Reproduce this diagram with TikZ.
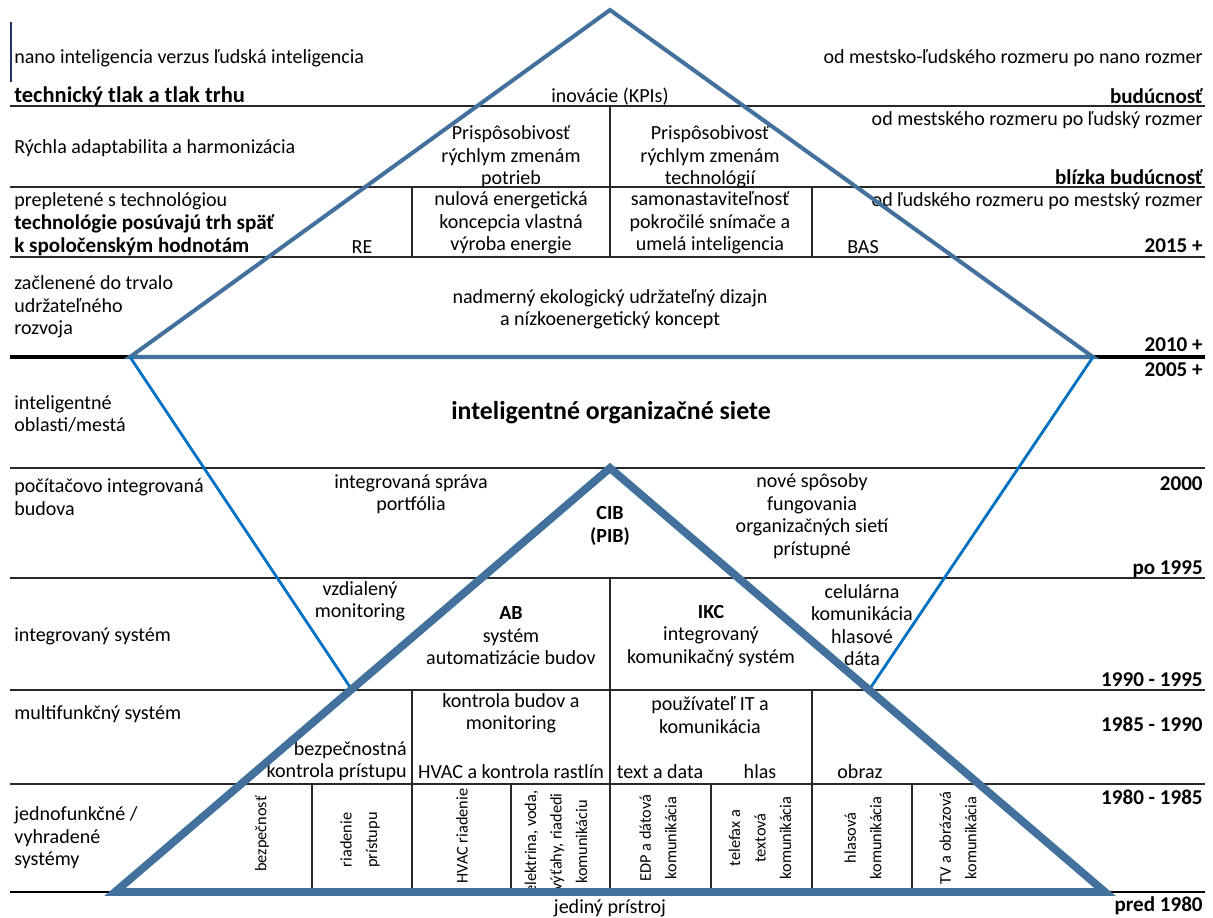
\documentclass[tikz,border=0pt]{standalone}
\usepackage{fontspec}
\setmainfont{Carlito}
\usepackage{tikz}
\usetikzlibrary{positioning, calc}
\definecolor{steel}{RGB}{65, 113, 156}
\definecolor{brightblue}{RGB}{0, 112, 192}
\definecolor{gridgray}{RGB}{40, 40, 40}
\definecolor{cursorblue}{RGB}{30, 50, 110}
\tikzset{
    txt/.style={inner sep=0pt, align=center, font=\fontsize{11.4}{12.8}\selectfont},
    lefttxt/.style={txt, anchor=west, align=left},
    righttxt/.style={txt, anchor=east, align=right},
    yearlbl/.style={righttxt, font=\fontsize{12}{14}\selectfont\bfseries},
    headlbl/.style={lefttxt, font=\fontsize{12}{13.2}\selectfont\bfseries},
    vertlbl/.style={inner sep=0pt, align=center, rotate=90, font=\fontsize{9.3}{14.5}\selectfont},
    gridline/.style={draw=gridgray, line width=0.8pt},
    toptri/.style={draw=steel, line width=2.3pt, line join=miter},
    innerline/.style={draw=brightblue, line width=1.6pt},
    basetri/.style={draw=steel, line width=4.5pt, line join=miter}
}

\begin{document}
\begin{tikzpicture}[x=0.02cm, y=-0.02cm]
    \useasboundingbox (0,0) rectangle (1213,917);
    % grid of the table
    \foreach \yy in {106,187,257,468,578,690,784}
        \draw[gridline] (10,\yy) -- (1205,\yy);
    \draw[draw=black, line width=1.8pt] (10,357) -- (1205,357);
    \draw[draw=black, line width=0.9pt] (10,892) -- (1205,892);
    \draw[gridline] (610,106) -- (610,257);
    \foreach \xx in {412,812}
        \draw[gridline] (\xx,187) -- (\xx,257);
    \draw[gridline] (610,578) -- (610,784);
    \foreach \xx in {412,812}
        \draw[gridline] (\xx,690) -- (\xx,784);
    \foreach \xx in {312,412,511,610,711,812,912}
        \draw[gridline] (\xx,784) -- (\xx,892);
    \draw[draw=cursorblue, line width=0.9pt] (11,22) -- (11,82);

    % row: nano
    \node[lefttxt] (nano) at (14,58) {nano inteligencia verzus ľudská inteligencia};
    \node[righttxt] (nanorozmer) at (1203,58) {od mestsko-ľudského rozmeru po nano rozmer};
    \node[headlbl, font=\fontsize{12.8}{14}\selectfont\bfseries] (tlak) at (14,96) {technický tlak a tlak trhu};
    \node[txt] (kpi) at (610,97) {inovácie (KPIs)};
    \node[yearlbl] (buducnost) at (1203,96) {budúcnosť};
    % row: adaptabilita
    \node[lefttxt] (adapt) at (14,148) {Rýchla adaptabilita a harmonizácia};
    \node[txt] (potrieb) at (511,157) {Prispôsobivosť\\rýchlym zmenám\\potrieb};
    \node[txt] (technol) at (710,157) {Prispôsobivosť\\rýchlym zmenám\\technológií};
    \node[righttxt] (ludsky) at (1203,120) {od mestského rozmeru po ľudský rozmer};
    \node[yearlbl] (blizka) at (1203,177) {blízka budúcnosť};
    % row: 2015
    \node[lefttxt] (preplet) at (14,201) {prepletené s technológiou};
    \node[headlbl] (spat) at (14,235) {technológie posúvajú trh späť\\k spoločenským hodnotám};
    \node[txt] (re) at (362,247) {RE};
    \node[txt] (nulova) at (511,223) {nulová energetická\\koncepcia vlastná\\výroba energie};
    \node[txt] (samo) at (710,223) {samonastaviteľnosť\\pokročilé snímače a\\umelá inteligencia};
    \node[txt] (bas) at (863,247) {BAS};
    \node[righttxt] (mestsky) at (1203,201) {od ľudského rozmeru po mestský rozmer};
    \node[yearlbl] (y2015) at (1203,246) {2015 +};
    % row: 2010
    \node[lefttxt] (zacl) at (14,307) {začlenené do trvalo\\udržateľného\\rozvoja};
    \node[txt] (dizajn) at (610,309) {nadmerný ekologický udržateľný dizajn\\a nízkoenergetický koncept};
    \node[yearlbl] (y2010) at (1203,345) {2010 +};
    % row: 2005
    \node[yearlbl] (y2005) at (1203,370) {2005 +};
    \node[lefttxt] (oblasti) at (14,414) {inteligentné\\oblasti/mestá};
    \node[txt, font=\fontsize{14.7}{16}\selectfont\bfseries] (siete) at (611,413) {inteligentné organizačné siete};
    % row: 2000
    \node[lefttxt] (budova) at (14,497) {počítačovo integrovaná\\budova};
    \node[txt] (portf) at (411,494) {integrovaná správa\\portfólia};
    \node[txt, font=\fontsize{11.4}{12.8}\selectfont\bfseries] (cib) at (610,526) {CIB\\(PIB)};
    \node[txt] (sposoby) at (812,516) {nové spôsoby\\fungovania\\organizačných sietí\\prístupné};
    \node[yearlbl] (y2000) at (1203,484) {2000};
    \node[yearlbl] (y1995) at (1203,569) {po 1995};
    % row: 1990 - 1995
    \node[lefttxt] (integ) at (14,636) {integrovaný systém};
    \node[txt] (vzdial) at (360,601) {vzdialený\\monitoring};
    \node[txt] (ab) at (511,636) {\textbf{AB}\\systém\\automatizácie budov};
    \node[txt] (ikc) at (711,636) {\textbf{IKC}\\integrovaný\\komunikačný systém};
    \node[txt] (celul) at (862,625) {celulárna\\komunikácia\\hlasové\\dáta};
    \node[yearlbl] (y1990) at (1203,680) {1990 - 1995};
    % row: 1985 - 1990
    \node[lefttxt] (multi) at (14,714) {multifunkčný systém};
    \node[righttxt] (bezp) at (407,761) {bezpečnostná\\kontrola prístupu};
    \node[txt] (kontrola) at (511,713) {kontrola budov a\\monitoring};
    \node[txt] (hvac) at (511,772) {HVAC a kontrola rastlín};
    \node[txt] (pouzit) at (710,715) {používateľ IT a\\komunikácia};
    \node[txt] (textdata) at (660,772) {text a data};
    \node[txt] (hlas) at (760,772) {hlas};
    \node[txt] (obraz) at (860,772) {obraz};
    \node[yearlbl] (y1985) at (1203,724) {1985 - 1990};
    % row: 1980 - 1985
    \node[lefttxt] (jedno) at (14,838) {jednofunkčné /\\vyhradené\\systémy};
    \node[vertlbl] (bezpecnost) at (262,834) {bezpečnosť};
    \node[vertlbl] (riadenie) at (360,840) {riadenie\\prístupu};
    \node[vertlbl] (hvacr) at (462,836) {HVAC riadenie};
    \node[vertlbl] (elektr) at (556,842) {elektrina, voda,\\výťahy, riadedi\\komunikáciu};
    \node[vertlbl] (edp) at (658,838) {EDP a dátová\\komunikácia};
    \node[vertlbl] (telefax) at (760,838) {telefax a\\textová\\komunikácia};
    \node[vertlbl] (hlasova) at (863,838) {hlasová\\komunikácia};
    \node[vertlbl] (tv) at (958,838) {TV a obrázová\\komunikácia};
    \node[yearlbl] (y1980) at (1203,797) {1980 - 1985};
    \node[txt] (jediny) at (610,908) {jediný prístroj};
    \node[yearlbl] (pred) at (1203,906) {pred 1980};

    % triangles
    \coordinate (apex) at (610,10);
    \coordinate (tl) at (130,357);
    \coordinate (tr) at (1093,357);
    \coordinate (l2) at (352,690);
    \coordinate (r2) at (869,690);
    \coordinate (bapex) at (610,468);
    \coordinate (bl) at (115,892);
    \coordinate (br) at (1105,892);
    \draw[toptri] (apex) -- (tl) -- (tr) -- cycle;
    \draw[innerline] (tl) -- (l2);
    \draw[innerline] (tr) -- (r2);
    \draw[basetri] (bapex) -- (bl) -- (br) -- cycle;
\end{tikzpicture}
\end{document}
